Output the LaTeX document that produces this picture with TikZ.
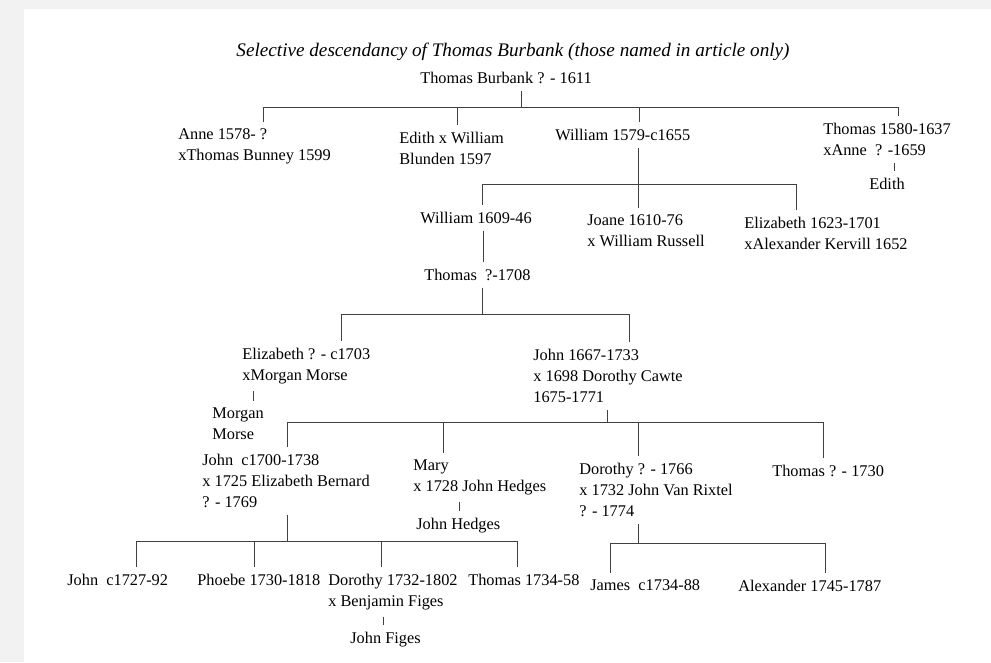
\documentclass[tikz,border=0pt]{standalone}
\usepackage{fontspec}
\setmainfont{Liberation Serif}
\begin{document}
\begin{tikzpicture}[
    x=0.6pt, y=-0.6pt,
    person/.style={anchor=north west, align=left, inner xsep=0pt,
      inner ysep=4pt, font=\fontsize{9.8}{12.6}\selectfont},
    link/.style={draw=black!75, line width=0.5pt},
  ]
    % Page
    \fill[black!5] (0,0) rectangle (991,662);
    \fill[white] (24,9) rectangle (991,662);

    % Title
    \node[font=\fontsize{11.5}{14}\selectfont\itshape, anchor=base] (title) at (513,56)
      {Selective descendancy of Thomas Burbank (those named in article only)};

    % Thomas Burbank and his children
    \node[person] (root)    at (420,65)  {Thomas Burbank ? - 1611};
    \node[person] (anne)    at (178,122) {Anne 1578- ?\\xThomas Bunney 1599};
    \node[person] (edith)   at (399,125) {Edith x William\\Blunden 1597};
    \node[person] (william) at (555,122) {William 1579-c1655};
    \node[person] (thomas)  at (823,116) {Thomas 1580-1637\\xAnne~ ? -1659};
    \node[person] (edithb)  at (869,171) {Edith};

    \coordinate (root-stem) at (521,107);
    \coordinate (root-1) at (263,107);
    \coordinate (root-2) at (457,107);
    \coordinate (root-3) at (639,107);
    \coordinate (root-4) at (898,107);
    \draw[link] (root.south -| root-stem) -- (root-stem);
    \draw[link] (root-1) -- (root-4);
    \draw[link] (root-1) -- (root-1 |- anne.north);
    \draw[link] (root-2) -- (root-2 |- edith.north);
    \draw[link] (root-3) -- (root-3 |- william.north);
    \draw[link] (root-4) -- (root-4 |- thomas.north);

    \coordinate (thomas-stem) at (894,0);
    \draw[link] (thomas.south -| thomas-stem) -- (edithb.north -| thomas-stem);

    % William 1579-c1655 and his children
    \node[person] (williamb) at (420,205) {William 1609-46};
    \node[person] (joane)    at (587,208) {Joane 1610-76\\x William Russell};
    \node[person] (eliza)    at (744,210) {Elizabeth 1623-1701\\xAlexander Kervill 1652};
    \node[person] (thomasb)  at (424,262) {Thomas~ ?-1708};

    \coordinate (william-stem) at (638,184);
    \coordinate (william-1) at (482,184);
    \coordinate (william-2) at (796,184);
    \draw[link] (william.south -| william-stem) -- (william-stem |- joane.north);
    \draw[link] (william-1) -- (william-2);
    \draw[link] (william-1) -- (william-1 |- williamb.north);
    \draw[link] (william-2) -- (william-2 |- eliza.north);

    \coordinate (williamb-stem) at (483,0);
    \draw[link] (williamb.south -| williamb-stem) -- (thomasb.north -| williamb-stem);

    % Thomas ?-1708 and his children
    \node[person] (elizc)  at (242,341) {Elizabeth ? - c1703\\xMorgan Morse};
    \node[person] (morgan) at (212,401) {Morgan\\Morse};
    \node[person] (john)   at (533,342) {John 1667-1733\\x 1698 Dorothy Cawte\\1675-1771};

    \coordinate (thomasb-stem) at (482,314);
    \coordinate (thomasb-1) at (341,314);
    \coordinate (thomasb-2) at (629,314);
    \draw[link] (thomasb.south -| thomasb-stem) -- (thomasb-stem);
    \draw[link] (thomasb-1) -- (thomasb-2);
    \draw[link] (thomasb-1) -- (thomasb-1 |- elizc.north);
    \draw[link] (thomasb-2) -- (thomasb-2 |- john.north);

    \coordinate (elizc-stem) at (253,0);
    \draw[link] (elizc.south -| elizc-stem) -- (morgan.north -| elizc-stem);

    % John 1667-1733 and his children
    \node[person] (johnc)   at (202,447) {John~ c1700-1738\\x 1725 Elizabeth Bernard\\? - 1769};
    \node[person] (mary)    at (413,453) {Mary\\x 1728 John Hedges};
    \node[person] (hedges)  at (416,511) {John Hedges};
    \node[person] (dorothy) at (579,456) {Dorothy ? - 1766\\x 1732 John Van Rixtel\\? - 1774};
    \node[person] (thomasc) at (772,458) {Thomas ? - 1730};

    \coordinate (john-stem) at (607,422);
    \coordinate (john-1) at (287,422);
    \coordinate (john-2) at (443,422);
    \coordinate (john-3) at (638,422);
    \coordinate (john-4) at (823,422);
    \draw[link] (john.south -| john-stem) -- (john-stem);
    \draw[link] (john-1) -- (john-4);
    \draw[link] (john-1) -- (john-1 |- johnc.north);
    \draw[link] (john-2) -- (john-2 |- mary.north);
    \draw[link] (john-3) -- (john-3 |- dorothy.north);
    \draw[link] (john-4) -- (john-4 |- thomasc.north);

    \coordinate (mary-stem) at (459,0);
    \draw[link] (mary.south -| mary-stem) -- (hedges.north -| mary-stem);

    % John c1700-1738 and his children
    \node[person] (johnd)    at (67,567)  {John~ c1727-92};
    \node[person] (phoebe)   at (197,567) {Phoebe 1730-1818};
    \node[person] (dorothyb) at (328,567) {Dorothy 1732-1802\\x Benjamin Figes};
    \node[person] (figes)    at (350,625) {John Figes};
    \node[person] (thomasd)  at (468,567) {Thomas 1734-58};

    \coordinate (johnc-stem) at (287,541);
    \coordinate (johnc-1) at (136,541);
    \coordinate (johnc-2) at (254,541);
    \coordinate (johnc-3) at (381,541);
    \coordinate (johnc-4) at (517,541);
    \draw[link] (johnc.south -| johnc-stem) -- (johnc-stem);
    \draw[link] (johnc-1) -- (johnc-4);
    \draw[link] (johnc-1) -- (johnc-1 |- johnd.north);
    \draw[link] (johnc-2) -- (johnc-2 |- phoebe.north);
    \draw[link] (johnc-3) -- (johnc-3 |- dorothyb.north);
    \draw[link] (johnc-4) -- (johnc-4 |- thomasd.north);

    \coordinate (dorothyb-stem) at (383,0);
    \draw[link] (dorothyb.south -| dorothyb-stem) -- (figes.north -| dorothyb-stem);

    % Dorothy ? - 1766 and her children
    \node[person] (james) at (590,573) {James~ c1734-88};
    \node[person] (alex)  at (738,573) {Alexander 1745-1787};

    \coordinate (dorothy-stem) at (638,543);
    \coordinate (dorothy-1) at (610,543);
    \coordinate (dorothy-2) at (825,543);
    \draw[link] (dorothy.south -| dorothy-stem) -- (dorothy-stem);
    \draw[link] (dorothy-1) -- (dorothy-2);
    \draw[link] (dorothy-1) -- (dorothy-1 |- james.north);
    \draw[link] (dorothy-2) -- (dorothy-2 |- alex.north);

    \useasboundingbox (0,0) rectangle (991,662);
\end{tikzpicture}
\end{document}
